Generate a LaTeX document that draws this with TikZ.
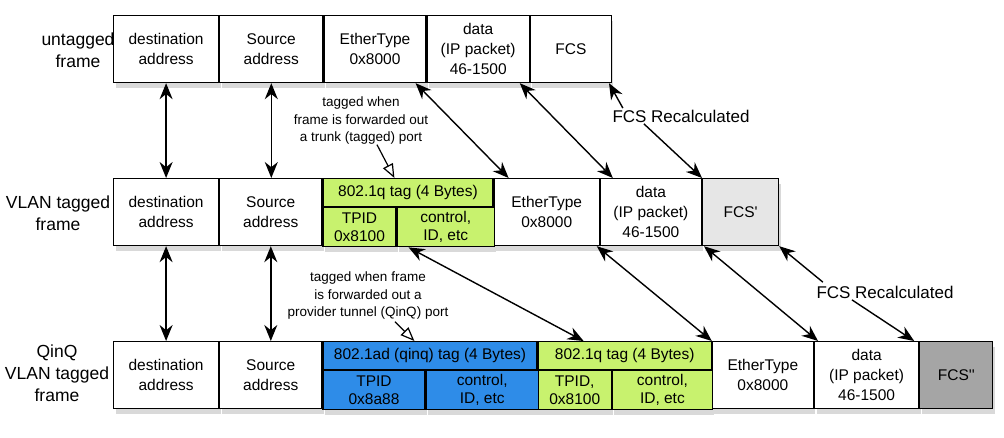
\documentclass[tikz,border=0pt]{standalone}
\usepackage{fontspec}
\setmainfont{Liberation Sans}
\usepackage{tikz}
\usetikzlibrary{arrows.meta,calc,shadows}

\definecolor{tagGreen}{RGB}{200,242,110}
\definecolor{tagBlue}{RGB}{46,140,232}
\definecolor{fcsLight}{RGB}{230,230,230}
\definecolor{fcsDark}{RGB}{165,165,165}

\tikzset{
  cell/.style={draw, line width=1.2pt, fill=white, inner sep=0pt, anchor=north west,
    align=center, minimum height=67pt, font=\fontsize{15.5}{20}\selectfont,
    drop shadow={opacity=0.3, shadow xshift=2pt, shadow yshift=-5pt}},
  head/.style={cell, minimum height=28pt},
  sub/.style={cell, minimum height=39pt, font=\fontsize{15.5}{18}\selectfont},
  rowlabel/.style={align=center, font=\fontsize{17.5}{22}\selectfont},
  note/.style={align=center, font=\fontsize{13.5}{17.5}\selectfont},
  recalc/.style={inner sep=1pt, font=\fontsize{17}{20}\selectfont},
  link/.style={line width=1.4pt},
  tagmark/.style={line width=1.2pt, -{Triangle[open,length=14pt,width=11pt]}},
}

\begin{document}
\begin{tikzpicture}[x=1pt, y=-1pt, >={Stealth[length=16pt,width=13pt]}, line width=1.2pt]

\useasboundingbox (0,0) rectangle (1004,438);

% untagged frame
\node[rowlabel] (l-untag) at (78,50) {untagged\\frame};
\node[cell, minimum width=105pt] (u-dst) at (113,15) {destination\\address};
\node[cell, minimum width=103pt] (u-src) at (u-dst.north east) {Source\\address};
\node[cell, minimum width=102pt] (u-eth) at (u-src.north east) {EtherType\\0x8000};
\node[cell, minimum width=102pt] (u-data) at (u-eth.north east) {data\\(IP packet)\\46-1500};
\node[cell, minimum width=81pt] (u-fcs) at (u-data.north east) {FCS};

% VLAN tagged frame
\node[rowlabel] (l-vlan) at (58,213) {VLAN tagged\\frame};
\node[cell, minimum width=105pt] (v-dst) at (113,178) {destination\\address};
\node[cell, minimum width=102pt] (v-src) at (v-dst.north east) {Source\\address};
\node[head, minimum width=170pt, fill=tagGreen] (v-tag) at (v-src.north east) {802.1q tag (4 Bytes)};
\node[sub, minimum width=73pt, fill=tagGreen] (v-tpid) at (v-tag.south west) {TPID\\0x8100};
\node[sub, minimum width=97pt, fill=tagGreen] (v-ctrl) at (v-tpid.north east) {control,\\ID, etc};
\node[cell, minimum width=105pt] (v-eth) at (v-tag.north east) {EtherType\\0x8000};
\node[cell, minimum width=101pt] (v-data) at (v-eth.north east) {data\\(IP packet)\\46-1500};
\node[cell, minimum width=76pt, fill=fcsLight] (v-fcs) at (v-data.north east) {FCS\textquotesingle};

% QinQ VLAN tagged frame
\node[rowlabel] (l-qinq) at (57,373) {QinQ\\VLAN tagged\\frame};
\node[cell, minimum width=105pt] (b-dst) at (113,341) {destination\\address};
\node[cell, minimum width=102pt] (b-src) at (b-dst.north east) {Source\\address};
\node[head, minimum width=214pt, fill=tagBlue] (b-qtag) at (b-src.north east) {802.1ad (qinq) tag (4 Bytes)};
\node[sub, minimum width=102pt, fill=tagBlue] (b-qtpid) at (b-qtag.south west) {TPID\\0x8a88};
\node[sub, minimum width=112pt, fill=tagBlue] (b-qctrl) at (b-qtpid.north east) {control,\\ID, etc};
\node[head, minimum width=173pt, fill=tagGreen] (b-ctag) at (b-qtag.north east) {802.1q tag (4 Bytes)};
\node[sub, minimum width=73pt, fill=tagGreen] (b-ctpid) at (b-ctag.south west) {TPID,\\0x8100};
\node[sub, minimum width=100pt, fill=tagGreen] (b-cctrl) at (b-ctpid.north east) {control,\\ID, etc};
\node[cell, minimum width=101pt] (b-eth) at (b-ctag.north east) {EtherType\\0x8000};
\node[cell, minimum width=104pt] (b-data) at (b-eth.north east) {data\\(IP packet)\\46-1500};
\node[cell, minimum width=73pt, fill=fcsDark] (b-fcs) at (b-data.north east) {FCS\textquotesingle\textquotesingle};

% notes
\node[note] (n-trunk) at (361,121) {tagged when\\frame is forwarded out\\a trunk (tagged) port};
\node[note] (n-qinq) at (368,296) {tagged when frame\\is forwarded out a\\provider tunnel (QinQ) port};
\node[recalc] (rc-top) at (681,116) {FCS Recalculated};
\node[recalc] (rc-bot) at (885,292) {FCS Recalculated};

% untagged <-> VLAN tagged
\draw[link, <->] (u-dst.south) -- (u-dst.south |- v-dst.north);
\draw[link, <->] (u-src.south) -- (u-src.south |- v-src.north);
\draw[link, <->] ($(u-eth.south east)+(-11,0)$) -- ($(v-eth.north west)+(15,0)$);
\draw[link, <->] ($(u-data.south east)+(-10,0)$) -- ($(v-data.north west)+(13,0)$);
\draw[link, ->] ($(rc-top.north west)+(12,0)$) -- ($(u-fcs.south east)+(-3,0)$);
\draw[link, ->] ($(rc-top.south west)+(33,0)$) -- (v-fcs.north west);
\draw[tagmark] ($(n-trunk.south)+(16,-4)$) -- ($(v-tag.north west)+(72,0)$);

% VLAN tagged <-> QinQ
\draw[link, <->] (v-dst.south) -- (v-dst.south |- b-dst.north);
\draw[link, <->] (v-src.south) -- (v-src.south |- b-src.north);
\draw[link, <->] ($(v-ctrl.south west)+(12,0)$) -- ($(b-ctag.north west)+(46,0)$);
\draw[link, <->] ($(v-eth.south east)+(-3,0)$) -- (b-eth.north west);
\draw[link, <->] ($(v-data.south east)+(2,0)$) -- ($(b-data.north west)+(4,0)$);
\draw[link, ->] ($(rc-bot.north west)+(8,-2)$) -- (v-fcs.south east);
\draw[link, ->] ($(rc-bot.south west)+(37,0)$) -- ($(b-fcs.north west)+(-5,0)$);
\draw[tagmark] ($(n-qinq.south)+(27,-2)$) -- ($(b-qtag.north west)+(92,0)$);

\end{tikzpicture}
\end{document}
